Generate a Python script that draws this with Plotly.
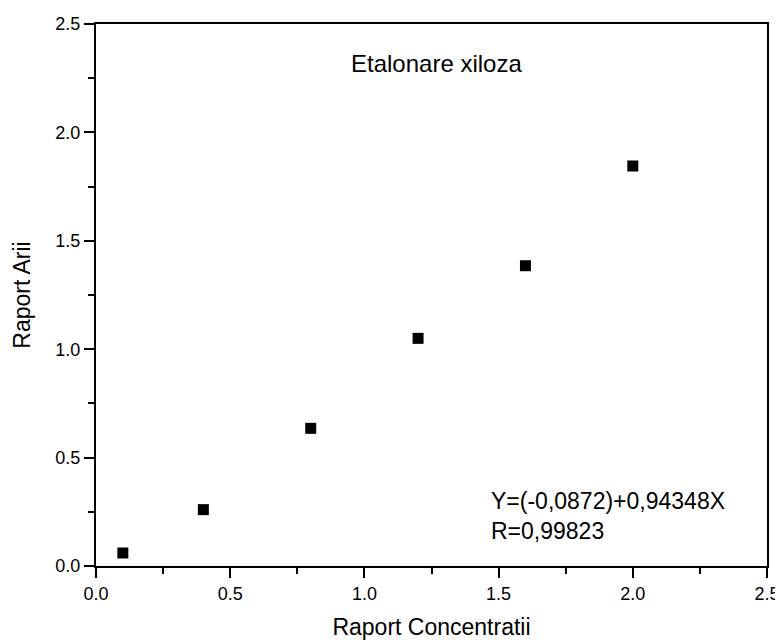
import plotly.graph_objects as go

# Data
raport_concentratii = [0.1, 0.4, 0.8, 1.2, 1.6, 2.0]
raport_arii = [0.06, 0.26, 0.635, 1.05, 1.385, 1.845]

tick_vals = [0.0, 0.5, 1.0, 1.5, 2.0, 2.5]
tick_text = ["0.0", "0.5", "1.0", "1.5", "2.0", "2.5"]

title_text = "Etalonare xiloza"
eq_text = "Y=(-0,0872)+0,94348X<br>R=0,99823"

font_family = "Arial, Liberation Sans, sans-serif"

fig = go.Figure()
fig.add_trace(go.Scatter(
    x=raport_concentratii, y=raport_arii, mode="markers",
    marker=dict(symbol="square", size=11, color="black"),
    showlegend=False, cliponaxis=False,
))

axis_common = dict(
    range=[0, 2.5], showgrid=False, zeroline=False, automargin=False,
    showline=True, linecolor="black", linewidth=2, mirror=True,
    ticks="outside", ticklen=10, tickwidth=2, tickcolor="black",
    tickvals=tick_vals, ticktext=tick_text,
    tickfont=dict(family=font_family, size=18, color="black"),
    minor=dict(ticks="outside", ticklen=6, tickwidth=2, tickcolor="black", dtick=0.25),
)

fig.update_layout(
    width=775, height=636,
    margin=dict(l=88, r=16, t=16, b=78),
    plot_bgcolor="white", paper_bgcolor="white",
    font=dict(family=font_family, color="black"),
    xaxis=dict(**axis_common,
               title=dict(text="Raport Concentratii", font=dict(size=23), standoff=16)),
    yaxis=dict(**axis_common,
               title=dict(text="Raport Arii", font=dict(size=23), standoff=18)),
    annotations=[
        dict(x=1.27, y=2.32, xref="x", yref="y", text=title_text, showarrow=False,
             font=dict(size=24, family=font_family, color="black")),
        dict(x=1.465, y=0.23, xref="x", yref="y", text=eq_text, showarrow=False,
             xanchor="left", yanchor="middle", align="left",
             font=dict(size=23, family=font_family, color="black")),
    ],
)

fig.write_html("out.html")
